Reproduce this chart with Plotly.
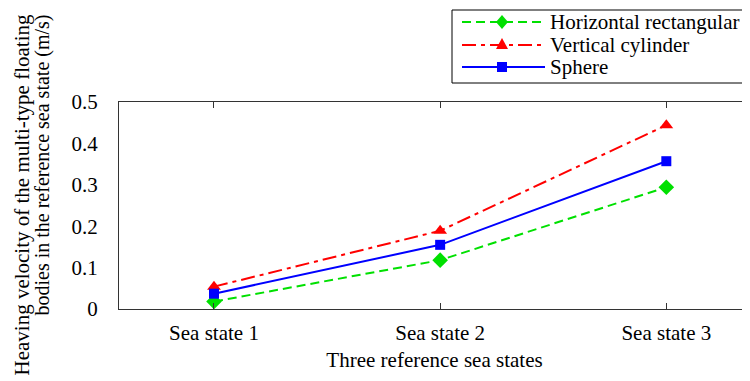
import plotly.graph_objects as go

categories = ["Sea state 1", "Sea state 2", "Sea state 3"]
horizontal_rect = [0.018, 0.118, 0.294]
vertical_cyl = [0.054, 0.189, 0.444]
sphere = [0.037, 0.155, 0.357]

series_names = ["Horizontal rectangular", "Vertical cylinder", "Sphere"]
series_values = [horizontal_rect, vertical_cyl, sphere]
series_colors = ["#00e000", "#ff0000", "#0000ff"]
series_dash = ["9px,5px", "14px,5px,4px,5px", "solid"]
series_symbol = ["diamond", "triangle-up", "square"]
series_msize = [12, 12, 10]

x_idx = list(range(len(categories)))
font = "Liberation Serif, Times New Roman, serif"

# page body adds an 8px offset; compensate so the plot lands at the reference position
W, H = 742, 373
ML, MR, MT, MB = 111, 0, 94, 72
PW, PH = W - ML - MR, H - MT - MB
OFF = 8

def px(xs):
    return (xs - OFF - ML) / PW

def py(ys):
    return (H - MB - (ys - OFF)) / PH

fig = go.Figure()
for name, vals, col, dash, sym, ms in zip(series_names, series_values, series_colors,
                                         series_dash, series_symbol, series_msize):
    fig.add_trace(go.Scatter(x=x_idx, y=vals, name=name, mode="lines+markers",
                             line=dict(color=col, width=2, dash=dash),
                             marker=dict(symbol=sym, size=ms, color=col),
                             showlegend=False))

fig.update_layout(
    width=W, height=H,
    margin=dict(l=ML, r=MR, t=MT, b=MB),
    paper_bgcolor="white", plot_bgcolor="white",
    font=dict(family=font, size=21, color="black"),
    showlegend=False,
)
fig.update_xaxes(
    range=[-0.42, 2.37], tickvals=x_idx, ticktext=categories,
    showgrid=False, zeroline=False,
    showline=True, linecolor="#333", linewidth=1, mirror="ticks",
    ticks="inside", ticklen=6, tickcolor="#333", ticklabelstandoff=5,
    title=dict(text="Three reference sea states", font=dict(family=font, size=21), standoff=8),
    tickfont=dict(family=font, size=21),
)
fig.update_yaxes(
    range=[0, 0.5], dtick=0.1,
    showgrid=False, zeroline=False,
    showline=True, linecolor="#333", linewidth=1, mirror=False,
    ticks="", ticklabelstandoff=16,
    tickfont=dict(family=font, size=21),
)

# y-axis title (two lines, tight spacing, top-aligned as in the reference)
ytitle_lines = ["Heaving velocity of the multi-type floating",
                "bodies in the reference sea state (m/s)"]
ytitle_sizes = [21, 20]
for i, (line, fs) in enumerate(zip(ytitle_lines, ytitle_sizes)):
    fig.add_annotation(text=line, textangle=-90, showarrow=False,
                       xref="paper", yref="paper",
                       x=px(21 + 21 * i), xanchor="center",
                       y=py(13), yanchor="top",
                       font=dict(family=font, size=fs))

# legend box (custom, to reproduce the tight row spacing)
fig.add_shape(type="rect", xref="paper", yref="paper",
              x0=px(452), x1=px(745), y0=py(83), y1=py(10),
              line=dict(color="black", width=1), fillcolor="white", layer="above")
row_y = [22, 45, 67]
marker_paths = {
    "diamond": "M0,7 L6,0 L0,-7 L-6,0 Z",
    "triangle-up": "M0,7 L6,-4 L-6,-4 Z",
    "square": "M-5,-5 L5,-5 L5,5 L-5,5 Z",
}
for name, col, dash, sym, yy in zip(series_names, series_colors, series_dash,
                                   series_symbol, row_y):
    fig.add_shape(type="line", xref="paper", yref="paper",
                  x0=px(462), x1=px(545), y0=py(yy), y1=py(yy),
                  line=dict(color=col, width=2, dash=dash), layer="above")
    fig.add_shape(type="path", xref="paper", yref="paper",
                  xsizemode="pixel", ysizemode="pixel",
                  xanchor=px(502), yanchor=py(yy),
                  path=marker_paths[sym],
                  fillcolor=col, line=dict(color=col, width=0), layer="above")
    fig.add_annotation(text=name, showarrow=False, xref="paper", yref="paper",
                       x=px(548), xanchor="left", y=py(yy), yanchor="middle",
                       font=dict(family=font, size=21))

fig.write_html("out.html")
